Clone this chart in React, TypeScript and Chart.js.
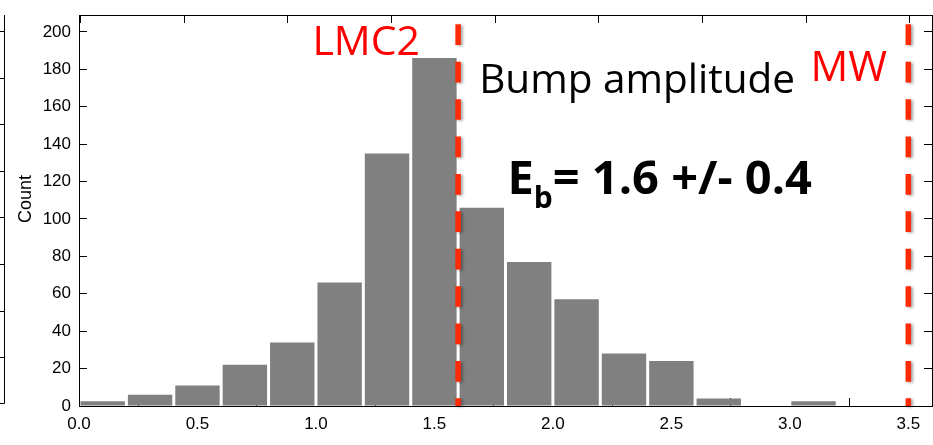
import React, { useEffect, useRef } from 'react';
import { Chart, registerables } from 'chart.js';

Chart.register(...registerables);

// ---- data ----
const binCenters = [0.1, 0.3, 0.5, 0.7, 0.9, 1.1, 1.3, 1.5, 1.7, 1.9, 2.1, 2.3, 2.5, 2.7, 2.9, 3.1, 3.3, 3.5];
const counts = [2.5, 6, 11, 22, 34, 66, 135, 186, 106, 77, 57, 28, 24, 4, 0, 2.5, 0, 0];
const markerValues = [1.6, 3.5];
const markerTop = 204;
const yAxisTitle = 'Count';
const lmcLabel = 'LMC2';
const mwLabel = 'MW';
const bumpLabel = 'Bump amplitude';
const ebMain = 'E';
const ebSub = 'b';
const ebRest = '= 1.6 +/- 0.4';

const X_MIN = 0;
const X_MAX = 3.6;
const Y_MIN = 0;
const Y_MAX = 209;

const AXIS_FONT = '"Liberation Sans", Arial, sans-serif';
const NOTE_FONT = '"Open Sans", sans-serif';

const annotationPlugin = {
  id: 'annotations',
  afterDatasetsDraw(chart: any) {
    const { ctx } = chart;
    const x = chart.scales.x;
    const y = chart.scales.y;
    ctx.save();
    // dashed red markers
    ctx.setLineDash([20.7, 16.7]);
    ctx.lineWidth = 5.5;
    ctx.lineCap = 'butt';
    ctx.strokeStyle = '#ff2b06';
    ctx.shadowColor = 'rgba(0,0,0,0.35)';
    ctx.shadowBlur = 3;
    ctx.shadowOffsetX = 2;
    ctx.shadowOffsetY = 1;
    markerValues.forEach((v) => {
      const px = x.getPixelForValue(v);
      ctx.beginPath();
      ctx.moveTo(px, y.getPixelForValue(markerTop));
      ctx.lineTo(px, y.getPixelForValue(0));
      ctx.stroke();
    });
    ctx.restore();

    ctx.save();
    ctx.textBaseline = 'alphabetic';
    ctx.textAlign = 'left';
    // LMC2
    ctx.fillStyle = '#ff0000';
    ctx.font = `41px ${NOTE_FONT}`;
    ctx.fillText(lmcLabel, x.getPixelForValue(0.985), y.getPixelForValue(187.6));
    // MW
    ctx.font = `42px ${NOTE_FONT}`;
    ctx.fillText(mwLabel, x.getPixelForValue(3.087), y.getPixelForValue(173.7));
    // Bump amplitude
    ctx.fillStyle = '#000000';
    ctx.font = `40.5px ${NOTE_FONT}`;
    ctx.fillText(bumpLabel, x.getPixelForValue(1.689), y.getPixelForValue(167.1));
    // E_b = ...
    let ex = x.getPixelForValue(1.808);
    const ey = y.getPixelForValue(113.3);
    ctx.font = `bold 47px ${NOTE_FONT}`;
    ctx.fillText(ebMain, ex, ey);
    ex += ctx.measureText(ebMain).width;
    ctx.font = `bold 30px ${NOTE_FONT}`;
    ctx.fillText(ebSub, ex, ey + 14);
    ex += ctx.measureText(ebSub).width;
    ctx.font = `bold 47px ${NOTE_FONT}`;
    ctx.fillText(ebRest, ex, ey);
    ctx.restore();
  },
  afterDraw(chart: any) {
    const { ctx } = chart;
    ctx.save();
    // y axis title
    ctx.fillStyle = '#000';
    ctx.font = `18px ${AXIS_FONT}`;
    ctx.textAlign = 'center';
    ctx.textBaseline = 'middle';
    ctx.translate(26.5, 199);
    ctx.rotate(-Math.PI / 2);
    ctx.fillText(yAxisTitle, 0, 0);
    ctx.restore();

    // partial frame of neighbouring panel at left edge
    ctx.save();
    ctx.strokeStyle = '#000';
    ctx.lineWidth = 1;
    ctx.beginPath();
    ctx.moveTo(4.5, 15);
    ctx.lineTo(4.5, 403.5);
    ctx.lineTo(0, 403.5);
    for (let i = 0; i < 8; i++) {
      const ty = Math.round(31 + i * 46.6) + 0.5;
      ctx.moveTo(0, ty);
      ctx.lineTo(4.5, ty);
    }
    ctx.stroke();
    ctx.restore();
  },
};

function zeroPad(s: any) {
  s.paddingTop = 0;
  s.paddingBottom = 0;
  s.paddingLeft = 0;
  s.paddingRight = 0;
}

export default function App() {
  const canvasRef = useRef<HTMLCanvasElement | null>(null);

  useEffect(() => {
    if (!canvasRef.current) return;
    const tickFont = { family: AXIS_FONT, size: 17 };
    const innerGrid = {
      drawOnChartArea: false,
      drawTicks: true,
      tickLength: -8,
      color: '#000',
      lineWidth: 1,
    };
    const chart = new Chart(canvasRef.current, {
      type: 'bar',
      data: {
        datasets: [
          {
            data: binCenters.map((c, i) => ({ x: c, y: counts[i] })),
            backgroundColor: '#808080',
            borderWidth: 0,
            barPercentage: 1,
            categoryPercentage: 0.937,
          },
        ],
      },
      options: {
        animation: false,
        responsive: false,
        devicePixelRatio: 1,
        layout: { padding: { top: 15, right: 1, left: 0, bottom: 0 } },
        plugins: { legend: { display: false }, tooltip: { enabled: false }, title: { display: false } },
        scales: {
          x: {
            type: 'linear',
            position: 'bottom',
            min: X_MIN,
            max: X_MAX,
            offset: false,
            grid: innerGrid,
            border: { display: true, color: '#000', width: 1 },
            ticks: {
              stepSize: 0.5,
              includeBounds: false,
              autoSkip: false,
              maxRotation: 0,
              color: '#000',
              font: tickFont,
              padding: 16,
              callback: (v: any) => Number(v).toFixed(1),
            },
            afterFit: (s: any) => { s.height = 39; zeroPad(s); },
          },
          x2: {
            type: 'linear',
            position: 'top',
            min: X_MIN,
            max: X_MAX,
            grid: innerGrid,
            border: { display: true, color: '#000', width: 1 },
            ticks: { stepSize: 0.5, includeBounds: false, display: false },
            afterFit: (s: any) => { s.height = 0; zeroPad(s); },
          },
          y: {
            type: 'linear',
            position: 'left',
            min: Y_MIN,
            max: Y_MAX,
            grid: innerGrid,
            border: { display: true, color: '#000', width: 1 },
            ticks: {
              stepSize: 20,
              includeBounds: false,
              color: '#000',
              font: tickFont,
              padding: 16,
            },
            afterFit: (s: any) => { s.width = 79; zeroPad(s); },
          },
          y2: {
            type: 'linear',
            position: 'right',
            min: Y_MIN,
            max: Y_MAX,
            grid: innerGrid,
            border: { display: true, color: '#000', width: 1 },
            ticks: { stepSize: 20, includeBounds: false, display: false },
            afterFit: (s: any) => { s.width = 0; zeroPad(s); },
          },
        },
      } as any,
      plugins: [annotationPlugin],
    });
    return () => chart.destroy();
  }, []);

  return (
    <div style={{ position: 'absolute', left: 0, top: 0, width: 933, height: 445, background: '#fff' }}>
      <canvas ref={canvasRef} width={933} height={445} style={{ display: 'block' }} />
    </div>
  );
}
